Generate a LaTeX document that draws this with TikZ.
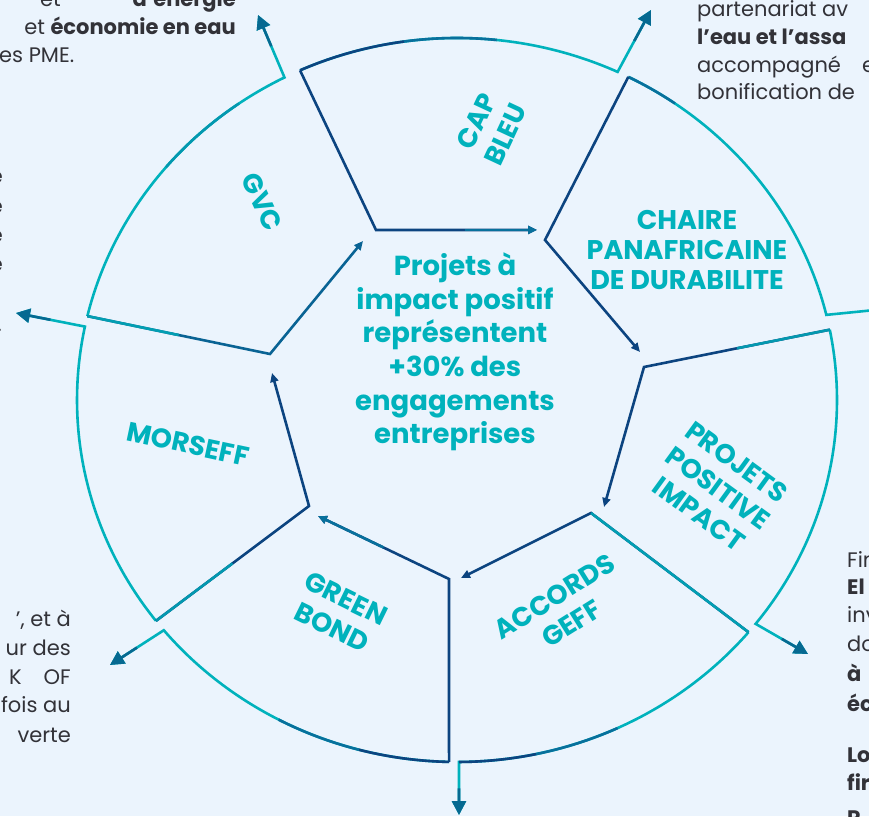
\documentclass[tikz,border=0pt]{standalone}
\usepackage{fontspec}
\setmainfont{Poppins}
\usetikzlibrary{arrows.meta}
\usetikzlibrary{calc}
\definecolor{mbg}{RGB}{235,244,253}
\definecolor{mteal}{RGB}{0,178,188}
\definecolor{mnavy}{RGB}{12,68,128}
\definecolor{mmid}{RGB}{8,112,156}
\definecolor{mtip}{RGB}{6,105,145}
\definecolor{mgrey}{RGB}{50,50,56}

\begin{document}
\begin{tikzpicture}[x=1pt, y=1pt,
    ell/.style={x radius=380, y radius=362},
    rim/.style={line width=2.6pt, line join=miter, mteal, -{Triangle[length=14pt,width=14pt]}},
    rimpart/.style={line width=2.6pt},
    tipend/.style={line width=2.6pt, mtip, -{Triangle[length=14pt,width=14pt]}},
    spoke/.style={line width=2.6pt, line join=miter, -{Triangle[length=9pt,width=8pt]}},
    label/.style={mteal, font=\bfseries\fontsize{27}{32}\selectfont, align=center},
    para/.style={mgrey, font=\fontsize{21}{28}\selectfont, inner sep=0pt}]

  \useasboundingbox (0,0) rectangle (869,816);
  \fill [mbg] (0,0) rectangle (869,816);
  \clip (0,0) rectangle (869,816);

  \coordinate (c) at (457,416);

  % GVC
  \path (c) ++(166.6:380 and 362) coordinate (gvc-o);
  \coordinate (gvc-i) at (270,462);
  \coordinate (gvc-t) at (363,575);
  \coordinate (gvc-a) at (258,801);
  \draw [rim] (gvc-o) arc [ell, start angle=166.6, end angle=117] coordinate (gvc-e) -- (gvc-a);
  \draw [rimpart, mteal!60!mmid] (c) ++(140:380 and 362) arc [ell, start angle=140, end angle=125];
  \draw [tipend] ($(gvc-e)!0.5!(gvc-a)$) -- (gvc-a);
  \draw [spoke, mmid!70!mnavy] (gvc-o) -- (gvc-i) -- (gvc-t);
  \draw [rimpart, mteal!70!mmid] (gvc-o) -- ($(gvc-o)!0.5!(gvc-i)$);

  % CAP BLEU
  \path (c) ++(114.4:380 and 362) coordinate (cap-o);
  \coordinate (cap-i) at (376,586);
  \coordinate (cap-t) at (537,586);
  \coordinate (cap-a) at (651,806);
  \draw [rim] (cap-o) arc [ell, start angle=114.4, end angle=65] coordinate (cap-e) -- (cap-a);
  \draw [rimpart, mnavy] (cap-o) arc [ell, start angle=114.4, end angle=98];
  \draw [rimpart, mmid] (c) ++(98:380 and 362) arc [ell, start angle=98, end angle=84];
  \draw [tipend] ($(cap-e)!0.5!(cap-a)$) -- (cap-a);
  \draw [spoke, mnavy] (cap-o) -- (cap-i) -- (cap-t);
  \draw [spoke, mmid] ($(cap-i)!0.55!(cap-t)$) -- (cap-t);

  % CHAIRE
  \path (c) ++(63.2:380 and 362) coordinate (cha-o);
  \coordinate (cha-i) at (545,576);
  \coordinate (cha-t) at (640,464);
  \coordinate (cha-a) at (905,509);
  \draw [rim] (cha-o) arc [ell, start angle=63.2, end angle=13.6] coordinate (cha-e) -- (cha-a);
  \draw [rimpart, mmid] (cha-o) arc [ell, start angle=63.2, end angle=55];
  \draw [spoke, mnavy] (cha-o) -- (cha-i) -- (cha-t);

  % PROJETS POSITIVE IMPACT
  \path (c) ++(11.2:380 and 362) coordinate (pro-o);
  \coordinate (pro-i) at (644,449);
  \coordinate (pro-t) at (604,309);
  \coordinate (pro-a) at (808,162);
  \draw [rim] (pro-o) arc [ell, start angle=11.2, end angle=-38.2] coordinate (pro-e) -- (pro-a);
  \draw [tipend] ($(pro-e)!0.5!(pro-a)$) -- (pro-a);
  \draw [spoke, mnavy] (pro-o) -- (pro-i) -- (pro-t);
  \draw [rimpart, mteal!60!mmid] (pro-o) -- ($(pro-o)!0.5!(pro-i)$);

  % ACCORDS GEFF
  \path (c) ++(-39.9:380 and 362) coordinate (acc-o);
  \coordinate (acc-i) at (591,303);
  \coordinate (acc-t) at (461,238);
  \coordinate (acc-a) at (459,1);
  \draw [rim] (acc-o) arc [ell, start angle=-39.9, end angle=-89.7] coordinate (acc-e) -- (acc-a);
  \draw [rimpart, mmid] (c) ++(-65:380 and 362) arc [ell, start angle=-65, end angle=-78];
  \draw [rimpart, mnavy] (c) ++(-78:380 and 362) arc [ell, start angle=-78, end angle=-89.7];
  \draw [tipend] ($(acc-e)!0.5!(acc-a)$) -- (acc-a);
  \draw [spoke, mnavy] (acc-o) -- (acc-i) -- (acc-t);
  \draw [rimpart, mteal!70!mmid] (acc-o) -- (acc-i);

  % GREEN BOND
  \path (c) ++(-91.2:380 and 362) coordinate (grn-o);
  \coordinate (grn-i) at (449,237);
  \coordinate (grn-t) at (318,300);
  \coordinate (grn-a) at (110,151);
  \draw [rim] (grn-o) arc [ell, start angle=-91.2, end angle=-140.5] coordinate (grn-e) -- (grn-a);
  \draw [rimpart, mnavy] (grn-o) arc [ell, start angle=-91.2, end angle=-105];
  \draw [rimpart, mmid] (c) ++(-105:380 and 362) arc [ell, start angle=-105, end angle=-118];
  \draw [tipend] ($(grn-e)!0.5!(grn-a)$) -- (grn-a);
  \draw [spoke, mnavy] (grn-o) -- (grn-i) -- (grn-t);
  \draw [spoke, mmid] ($(grn-i)!0.5!(grn-t)$) -- (grn-t);

  % MORSEFF
  \path (c) ++(-142.4:380 and 362) coordinate (mor-o);
  \coordinate (mor-i) at (309,310);
  \coordinate (mor-t) at (272,443);
  \coordinate (mor-a) at (16,503);
  \draw [rim] (mor-o) arc [ell, start angle=-142.4, end angle=-191.7] coordinate (mor-e) -- (mor-a);
  \draw [tipend] ($(mor-e)!0.5!(mor-a)$) -- (mor-a);
  \draw [spoke, mnavy] (mor-o) -- (mor-i) -- (mor-t);
  \draw [rimpart, mteal!60!mmid] (mor-o) -- ($(mor-o)!0.5!(mor-i)$);

  % labels
  \node [label, rotate=-65] (gvc-lbl) at (262,614) {GVC};
  \node [label, rotate=65] (cap-lbl) at (491,688) {CAP\\BLEU};
  \node [label, font=\bfseries\fontsize{27}{30}\selectfont] (cha-lbl) at (687,566) {CHAIRE\\PANAFRICAINE\\DE DURABILITE};
  \node [label, rotate=-36] (pro-lbl) at (718,328) {PROJETS\\POSITIVE\\IMPACT};
  \node [label, rotate=32] (acc-lbl) at (563,206) {ACCORDS\\GEFF};
  \node [label, rotate=-26] (grn-lbl) at (339,203) {GREEN\\BOND};
  \node [label, rotate=-12] (mor-lbl) at (188,372) {MORSEFF};

  \node [mteal, font=\bfseries\fontsize{27.5}{33.6}\selectfont, align=center] (core) at (455,464)
    {Projets à\\impact positif\\représentent\\+30\% des\\engagements\\entreprises};

  % text around
  \node [para, anchor=base west] (tl1a) at (40,809) {et};
  \node [para, anchor=base east] (tl1b) at (236,809) {\bfseries d’énergie};
  \node [para, anchor=base east] (tl2) at (236,781) {et \textbf{économie en eau}};
  \node [para, anchor=base west] (tl3) at (-1,753) {es PME.};

  \node [para, anchor=base west] (tr1) at (697,799) {partenariat av};
  \node [para, anchor=base west] (tr2) at (697,771) {\bfseries l’eau et l’assa};
  \node [para, anchor=base west] (tr3) at (697,743) {accompagné};
  \node [para, anchor=base west] (tr3b) at (862,743) {e};
  \node [para, anchor=base west] (tr4) at (697,716) {bonification de};

  \node [para, anchor=base east] (ml1) at (3,632) {e};
  \node [para, anchor=base east] (ml2) at (3,602) {e};
  \node [para, anchor=base east] (ml3) at (3,573) {e};
  \node [para, anchor=base east] (ml4) at (3,544) {e};
  \node [para, anchor=base east] (ml5) at (2,484) {.};

  \node [para, anchor=base east] (bl1) at (71,189) {’, et à};
  \node [para, anchor=base east] (bl2) at (71,160) {ur des};
  \node [para, anchor=base east] (bl3) at (71,131) {K\hspace{22pt}OF};
  \node [para, anchor=base east] (bl4) at (71,103) {fois au};
  \node [para, anchor=base east] (bl5) at (71,74) {verte};

  \node [para, anchor=base west] (br1) at (847,248) {Fin};
  \node [para, anchor=base west] (br2) at (847,221) {\bfseries El};
  \node [para, anchor=base west] (br3) at (847,193) {inv};
  \node [para, anchor=base west] (br4) at (847,164) {do};
  \node [para, anchor=base west] (br5) at (847,134) {\bfseries à};
  \node [para, anchor=base west] (br6) at (847,104) {\bfseries éc};
  \node [para, anchor=base west] (br7) at (847,54) {\bfseries Lo};
  \node [para, anchor=base west] (br8) at (847,26) {\bfseries fir};
  \node [para, anchor=base west] (br9) at (847,-9) {\bfseries R};
\end{tikzpicture}
\end{document}
